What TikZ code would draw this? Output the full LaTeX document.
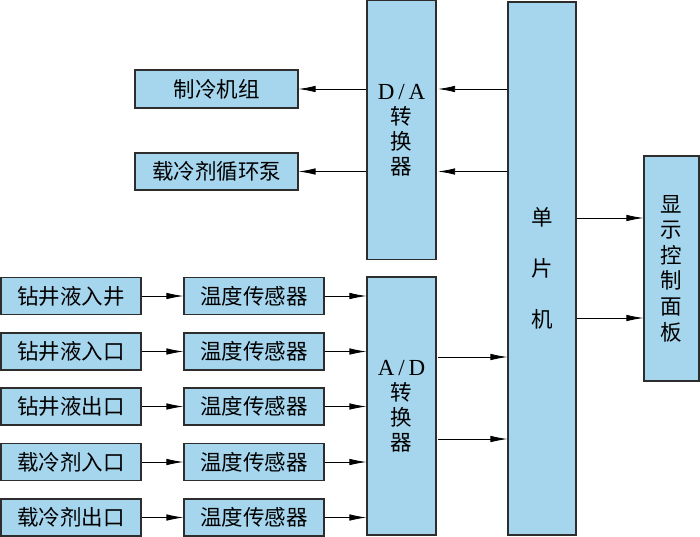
\documentclass[tikz,border=0pt]{standalone}
\usepackage{fontspec}
\setmainfont{Noto Sans CJK SC}
\newfontfamily\latf{Liberation Serif}
\usetikzlibrary{arrows.meta}
\definecolor{boxblue}{RGB}{166,214,238}
\definecolor{edgegray}{RGB}{45,45,45}
\begin{document}
\begin{tikzpicture}[x=1pt,y=-1pt,
  box/.style={draw=edgegray, fill=boxblue, line width=1.1pt, inner sep=0pt, anchor=center,
    font=\fontsize{21.5}{25}\selectfont, align=center},
  arr/.style={draw=black, line width=0.8pt, -{Latex[length=17pt,width=6.5pt]}}]
\useasboundingbox (0,0) rectangle (700,536);
% top left outputs
\node[box, minimum width=163pt, minimum height=38pt] (zl) at (216.5,89) {制冷机组};
\node[box, minimum width=163pt, minimum height=37pt] (bz) at (216.5,171.5) {载冷剂循环泵};
% converters
\node[box, minimum width=69pt, minimum height=259pt] (da) at (401.5,130) {{\latf\fontsize{23}{25}\selectfont D\,/\,A}\\转\\换\\器};
\node[box, minimum width=69pt, minimum height=258pt] (ad) at (401.5,406) {{\latf\fontsize{23}{25}\selectfont A\,/\,D}\\转\\换\\器};
% MCU
\node[box, minimum width=68pt, minimum height=533pt, font=\fontsize{21.5}{51}\selectfont] (mcu) at (542,268.5) {单\\片\\机};
% display
\node[box, minimum width=55pt, minimum height=225pt, font=\fontsize{21.5}{25.6}\selectfont] (disp) at (671.5,268.5) {显\\示\\控\\制\\面\\板};
% inputs
\foreach \i/\y/\t in {1/296/钻井液入井, 2/351.5/钻井液入口, 3/406.5/钻井液出口, 4/462/载冷剂入口, 5/517.5/载冷剂出口}{
  \node[box, minimum width=140pt, minimum height=37pt] (in\i) at (71,\y) {\t};
  \node[box, minimum width=140pt, minimum height=37pt] (s\i) at (254,\y) {温度传感器};
  \draw[arr] (in\i) -- (s\i);
  \draw[arr] (s\i) -- (ad.west |- s\i);
}
% D/A outputs
\draw[arr] (da.west |- zl) -- (zl);
\draw[arr] (da.west |- bz) -- (bz);
\draw[arr] (mcu.west |- zl) -- ([xshift=1.5pt]da.east |- zl);
\draw[arr] (mcu.west |- bz) -- ([xshift=1.5pt]da.east |- bz);
% MCU to display
\coordinate (m1) at (0,218);
\coordinate (m2) at (0,318);
\draw[arr] (mcu.east |- m1) -- (disp.west |- m1);
\draw[arr] (mcu.east |- m2) -- (disp.west |- m2);
% A/D to MCU
\coordinate (a1) at (0,357);
\coordinate (a2) at (0,439);
\draw[arr] ([xshift=1.5pt]ad.east |- a1) -- (mcu.west |- a1);
\draw[arr] ([xshift=1.5pt]ad.east |- a2) -- (mcu.west |- a2);
\end{tikzpicture}
\end{document}
